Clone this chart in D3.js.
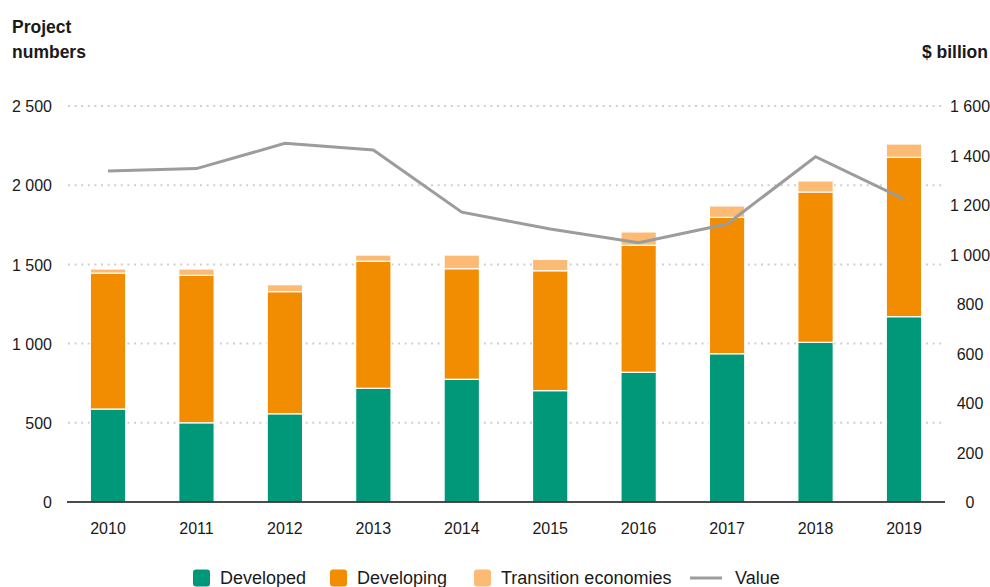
<!DOCTYPE html>
<html>
<head>
<meta charset="utf-8">
<script src="https://cdn.jsdelivr.net/npm/d3@7"></script>
<style>
  body { margin: 0; background: #fff; }
  svg text { font-family: "Liberation Sans", Arial, sans-serif; fill: #1a1a1a; }
</style>
</head>
<body>
<div id="chart"></div>
<script>
// data
const years = ['2010', '2011', '2012', '2013', '2014', '2015', '2016', '2017', '2018', '2019'];
const developed = [587, 500, 557, 718, 775, 703, 819, 936, 1008, 1170];
const developing = [858, 931, 771, 802, 698, 757, 802, 861, 949, 1006];
const transition = [26, 40, 44, 39, 86, 72, 84, 72, 70, 84];
const value = [1337, 1347, 1449, 1422, 1171, 1103, 1048, 1123, 1395, 1224];

const leftTicks = [0, 500, 1000, 1500, 2000, 2500];
const rightTicks = [0, 200, 400, 600, 800, 1000, 1200, 1400, 1600];

const seriesNames = ['Developed', 'Developing', 'Transition economies'];
const colors = ['#009878', '#f28c00', '#fbbb74'];
const lineColor = '#9c9c9c';

function drawChart() {
  const w = 990;
  const h = 587;

  const svg = d3.select('#chart').append('svg').attr('width', w).attr('height', h);

  // space as thousands separator, e.g. "2 500"
  const fmt = d3.formatLocale({ decimal: '.', thousands: ' ', grouping: [3], currency: ['', ''] }).format(',');

  const x = d3.scaleBand().domain(years).range([63.8, 948.2]).paddingInner(0.6).paddingOuter(0.3);
  const yL = d3.scaleLinear().domain([0, 2500]).range([502, 106]);
  const yR = d3.scaleLinear().domain([0, 1600]).range([502, 106]);

  // dotted gridlines
  svg.append('g')
    .selectAll('line')
    .data(leftTicks.filter((d) => d > 0))
    .enter()
    .append('line')
    .attr('x1', 68)
    .attr('x2', 943)
    .attr('y1', (d) => yL(d))
    .attr('y2', (d) => yL(d))
    .attr('stroke', '#cfcfcf')
    .attr('stroke-width', 2)
    .attr('stroke-dasharray', '2 4.6');

  // stacked bars
  const rows = years.map((y, i) => ({ year: y, Developed: developed[i], Developing: developing[i], 'Transition economies': transition[i] }));
  const stacked = d3.stack().keys(seriesNames)(rows);

  svg.append('g')
    .selectAll('g')
    .data(stacked)
    .enter()
    .append('g')
    .attr('fill', (d, i) => colors[i])
    .selectAll('rect')
    .data((d) => d)
    .enter()
    .append('rect')
    .attr('x', (d) => x(d.data.year))
    .attr('width', x.bandwidth())
    .attr('y', (d) => yL(d[1]))
    .attr('height', (d) => yL(d[0]) - yL(d[1]))
    .attr('stroke', '#fff')
    .attr('stroke-width', 1.2);

  // baseline
  svg.append('line')
    .attr('x1', 67).attr('x2', 945)
    .attr('y1', yL(0)).attr('y2', yL(0))
    .attr('stroke', '#111').attr('stroke-width', 1.6);

  // value line on the right scale
  const line = d3.line()
    .x((d, i) => x(years[i]) + x.bandwidth() / 2)
    .y((d) => yR(d));
  svg.append('path')
    .datum(value)
    .attr('d', line)
    .attr('fill', 'none')
    .attr('stroke', lineColor)
    .attr('stroke-width', 3);

  // axes
  const left = svg.append('g')
    .attr('transform', 'translate(52,0)')
    .call(d3.axisLeft(yL).tickValues(leftTicks).tickFormat(fmt).tickSize(0).tickPadding(0));
  left.select('.domain').remove();
  left.selectAll('text').attr('font-size', 16).attr('font-family', null).attr('dy', '0.36em');

  const right = svg.append('g')
    .attr('transform', 'translate(970,0)')
    .call(d3.axisRight(yR).tickValues(rightTicks).tickFormat(fmt).tickSize(0).tickPadding(0));
  right.select('.domain').remove();
  right.selectAll('text').attr('font-size', 16).attr('font-family', null).attr('text-anchor', 'middle').attr('dy', '0.36em');

  const bottom = svg.append('g')
    .attr('transform', `translate(0,${yL(0)})`)
    .call(d3.axisBottom(x).tickSize(0).tickPadding(21));
  bottom.select('.domain').remove();
  bottom.selectAll('text').attr('font-size', 16).attr('font-family', null);

  // axis titles
  svg.append('text').attr('x', 12).attr('y', 33).attr('font-size', 17.5).attr('font-weight', 'bold').text('Project');
  svg.append('text').attr('x', 12).attr('y', 58).attr('font-size', 17.5).attr('font-weight', 'bold').text('numbers');
  svg.append('text').attr('x', 988).attr('y', 58).attr('font-size', 17.5).attr('font-weight', 'bold').attr('text-anchor', 'end').text('$ billion');

  // legend
  const legendItems = [
    { name: 'Developed', color: colors[0], x: 193, type: 'box' },
    { name: 'Developing', color: colors[1], x: 330, type: 'box' },
    { name: 'Transition economies', color: colors[2], x: 474, type: 'box' },
    { name: 'Value', color: lineColor, x: 690, type: 'line' },
  ];
  const lg = svg.append('g').selectAll('g').data(legendItems).enter().append('g')
    .attr('transform', (d) => `translate(${d.x},578)`);
  lg.filter((d) => d.type === 'box').append('rect')
    .attr('x', 0).attr('y', -8.5).attr('width', 17).attr('height', 17).attr('rx', 3)
    .attr('fill', (d) => d.color);
  lg.filter((d) => d.type === 'line').append('line')
    .attr('x1', 0).attr('x2', 32).attr('y1', 0).attr('y2', 0)
    .attr('stroke', (d) => d.color).attr('stroke-width', 3);
  lg.append('text')
    .attr('x', (d) => (d.type === 'box' ? 27 : 45))
    .attr('dy', '0.36em')
    .attr('font-size', 18)
    .text((d) => d.name);
}

window.onload = function () {
  drawChart();
};
</script>
</body>
</html>
